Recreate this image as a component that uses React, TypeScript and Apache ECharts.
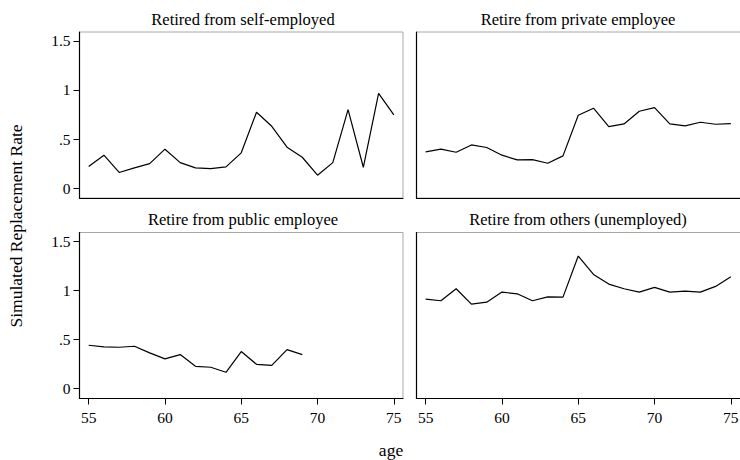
import React, { useEffect, useRef } from "react";
import * as echarts from "echarts";

const ages = [55, 56, 57, 58, 59, 60, 61, 62, 63, 64, 65, 66, 67, 68, 69, 70, 71, 72, 73, 74, 75];
const selfEmployed = [0.22, 0.336, 0.16, 0.207, 0.25, 0.397, 0.26, 0.207, 0.2, 0.217, 0.36, 0.773, 0.63, 0.417, 0.315, 0.132, 0.26, 0.8, 0.213, 0.966, 0.746];
const privateEmployee = [0.37, 0.397, 0.366, 0.44, 0.414, 0.336, 0.288, 0.29, 0.254, 0.329, 0.742, 0.814, 0.627, 0.654, 0.783, 0.82, 0.654, 0.634, 0.671, 0.651, 0.658];
const publicEmployee = [0.442, 0.425, 0.422, 0.432, 0.364, 0.303, 0.347, 0.228, 0.218, 0.167, 0.378, 0.248, 0.238, 0.398, 0.347];
const othersUnemployed = [0.912, 0.895, 1.017, 0.861, 0.881, 0.983, 0.966, 0.895, 0.935, 0.932, 1.35, 1.163, 1.065, 1.017, 0.983, 1.031, 0.983, 0.993, 0.983, 1.041, 1.139];
const panelTitles = ["Retired from self-employed", "Retire from private employee", "Retire from public employee", "Retire from others (unemployed)"];
const xTicks = [55, 60, 65, 70, 75];
const yTicks = [0, 0.5, 1, 1.5];
const yTitle = "Simulated Replacement Rate";
const xTitle = "age";

const FONT = "'Liberation Serif', 'Times New Roman', serif";

export default function App() {
  const ref = useRef<HTMLDivElement>(null);
  useEffect(() => {
    if (!ref.current) return;
    const chart = echarts.init(ref.current, undefined, { renderer: "svg" });
    const seriesData = [selfEmployed, privateEmployee, publicEmployee, othersUnemployed];
    const scale = 323.5 / 21.2;
    const grids = [
      { left: 79.5, top: 32, width: 323.5, height: 166 },
      { left: 416.5, top: 32, width: 340, height: 166 },
      { left: 79.5, top: 232.5, width: 323.5, height: 166 },
      { left: 416.5, top: 232.5, width: 340, height: 166 },
    ];
    const yFmt = (v: number) => {
      if (v === 0) return "0";
      const s = String(v);
      return s.startsWith("0.") ? s.slice(1) : s;
    };
    const option: any = {
      animation: false,
      backgroundColor: "#ffffff",
      textStyle: { fontFamily: FONT },
      grid: grids.map((g) => ({
        ...g,
        show: true,
        borderColor: "#a8a8a8",
        borderWidth: 1,
        backgroundColor: "transparent",
        containLabel: false,
      })),
      xAxis: grids.map((g, i) => ({
        type: "value",
        gridIndex: i,
        min: 54.4,
        max: 54.4 + g.width / scale,
        axisLine: { show: true, onZero: false, lineStyle: { color: "#000", width: 1.2 } },
        axisTick: { show: i >= 2, customValues: xTicks, length: 6, lineStyle: { color: "#000" } },
        axisLabel: {
          show: i >= 2,
          customValues: xTicks,
          color: "#000",
          fontFamily: FONT,
          fontSize: 15.5,
          margin: 11,
        },
        splitLine: { show: false },
      })),
      yAxis: grids.map((g, i) => ({
        type: "value",
        gridIndex: i,
        min: -0.1,
        max: 1.59,
        axisLine: { show: true, onZero: false, lineStyle: { color: "#000", width: 1.2 } },
        axisTick: { show: i % 2 === 0, customValues: yTicks, length: 6, lineStyle: { color: "#000" } },
        axisLabel: {
          show: i % 2 === 0,
          customValues: yTicks,
          formatter: yFmt,
          color: "#000",
          fontFamily: FONT,
          fontSize: 15.5,
          margin: 9,
        },
        splitLine: { show: false },
      })),
      series: seriesData.map((vals, i) => ({
        type: "line",
        xAxisIndex: i,
        yAxisIndex: i,
        data: vals.map((v, k) => [ages[k], v]),
        showSymbol: false,
        symbol: "none",
        lineStyle: { color: "#000", width: 1.2 },
        clip: true,
      })),
      graphic: [
        ...grids.map((g, i) => ({
          type: "text",
          x: i % 2 === 0 ? 243 : 578,
          y: g.top - 13,
          style: {
            text: panelTitles[i],
            fontFamily: FONT,
            fontSize: 16.5,
            fill: "#000",
            textAlign: "center",
            textVerticalAlign: "middle",
          },
        })),
        {
          type: "text",
          x: 16,
          y: 226,
          rotation: Math.PI / 2,
          style: {
            text: yTitle,
            fontFamily: FONT,
            fontSize: 17.5,
            fill: "#000",
            align: "center",
            verticalAlign: "middle",
          },
        },
        {
          type: "text",
          x: 391,
          y: 450,
          style: {
            text: xTitle,
            fontFamily: FONT,
            fontSize: 17.5,
            fill: "#000",
            align: "center",
            verticalAlign: "middle",
          },
        },
      ],
    };
    chart.setOption(option);
    return () => chart.dispose();
  }, []);
  return (
    <div style={{ position: "fixed", left: 0, top: 0, width: 740, height: 460, overflow: "hidden" }}>
      <div ref={ref} style={{ width: 780, height: 460 }} />
    </div>
  );
}
